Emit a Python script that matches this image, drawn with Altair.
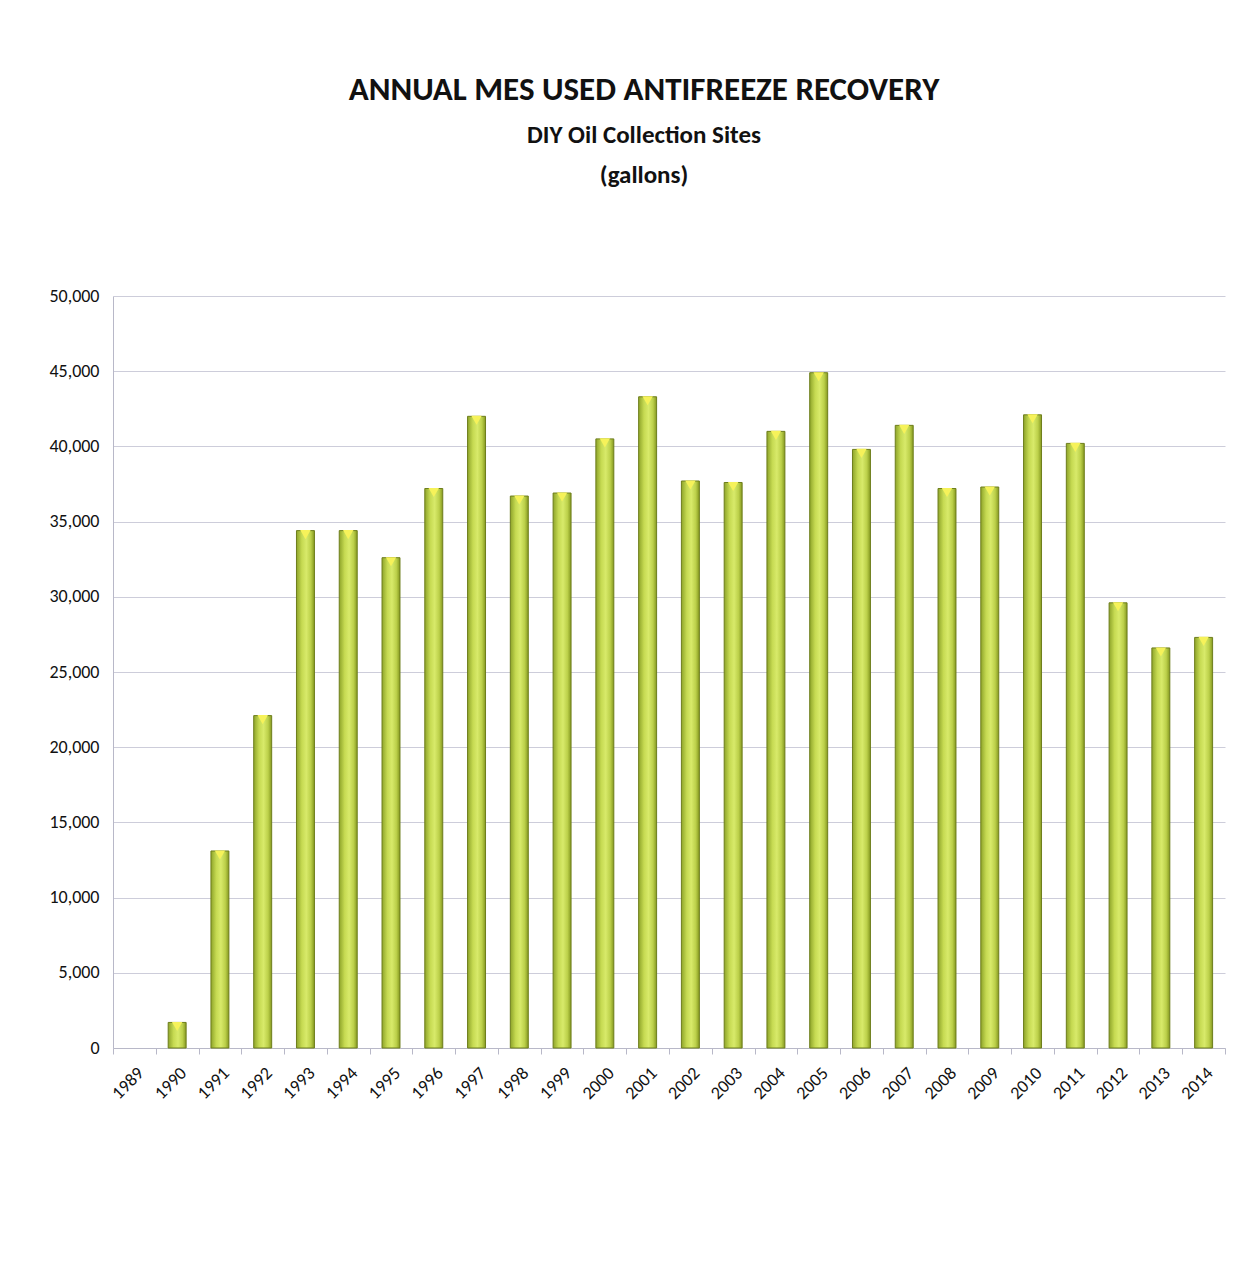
import altair as alt
import pandas as pd

years = [str(y) for y in range(1989, 2015)]
gallons = [0, 1700, 13100, 22100, 34400, 34400, 32600, 37200, 42000, 36700,
           36900, 40500, 43300, 37700, 37600, 41000, 44900, 39800, 41400, 37200,
           37300, 42100, 40200, 29600, 26600, 27300]

df = pd.DataFrame({"year": years, "gallons": gallons})

FONT = "Carlito, Liberation Sans Narrow, Lato, sans-serif"

x = alt.X("year:N", sort=years, title=None,
          scale=alt.Scale(domain=years, paddingInner=0, paddingOuter=0),
          axis=alt.Axis(labelAngle=-45, labelFontSize=18, labelFont=FONT,
                        labelColor="#111111", labelPadding=10,
                        tickBand="extent", tickSize=6, tickColor="#b8b8c8",
                        domainColor="#b8b8c8", grid=False))
y = alt.Y("gallons:Q", title=None,
          scale=alt.Scale(domain=[0, 50000], nice=False),
          axis=alt.Axis(values=list(range(0, 50001, 5000)), format=",d",
                        labelFontSize=18, labelFont=FONT, labelColor="#111111",
                        ticks=False, labelPadding=14,
                        gridColor="#cdcdda", gridWidth=1,
                        domainColor="#b8b8c8"))

grad = alt.Gradient(
    gradient="linear", x1=0, x2=1, y1=0, y2=0,
    stops=[alt.GradientStop(offset=0, color="#8ea42a"),
           alt.GradientStop(offset=0.3, color="#c6da52"),
           alt.GradientStop(offset=0.55, color="#d8ea6a"),
           alt.GradientStop(offset=0.8, color="#bcd04a"),
           alt.GradientStop(offset=1, color="#859820")])

base = alt.Chart(df).transform_filter("datum.gallons > 0")

bars = base.mark_bar(
    width=alt.RelativeBandSize(0.42), color=grad,
    stroke="#6e7e1c", strokeWidth=1
).encode(x=x, y=y)

caps = base.mark_point(
    shape="triangle-down", filled=True, color="#f6f25a", size=110,
    yOffset=4, opacity=1
).encode(x=x, y=y)

chart = alt.layer(bars, caps).properties(
    width=1112, height=752,
    title=alt.TitleParams(
        text="ANNUAL MES USED ANTIFREEZE RECOVERY",
        subtitle=["DIY Oil Collection Sites", "(gallons)"],
        font=FONT, fontSize=33, fontWeight="bold", color="#111111",
        subtitleFont=FONT, subtitleFontSize=25, subtitleFontWeight="bold",
        subtitleColor="#111111", subtitleLineHeight=40, subtitlePadding=16,
        anchor="middle", frame="group", offset=99, dx=-25),
    autosize=alt.AutoSizeParams(type="none"),
    padding={"left": 105, "top": 288, "right": 24, "bottom": 231},
    background="white"
).configure_view(stroke=None)

chart.save("out.html", embed_options={"renderer": "svg", "actions": False})
